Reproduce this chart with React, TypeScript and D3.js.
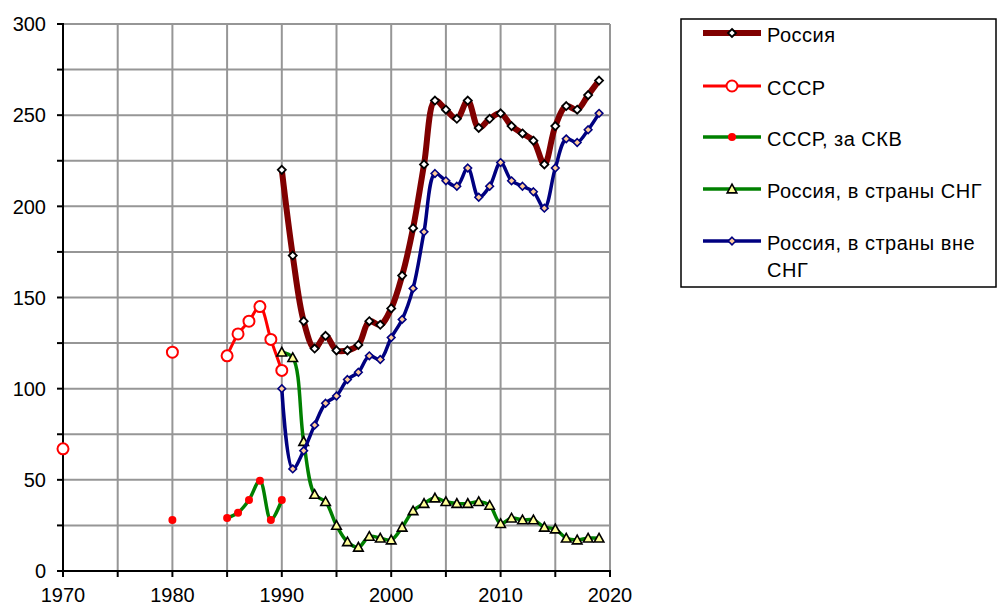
import React from "react";
import * as d3 from "d3";

// ---- data ----
const russiaYears = [1990,1991,1992,1993,1994,1995,1996,1997,1998,1999,2000,2001,2002,2003,2004,2005,2006,2007,2008,2009,2010,2011,2012,2013,2014,2015,2016,2017,2018,2019];
const russiaTotal = [220,173,137,122,129,121,121,124,137,135,144,162,188,223,258,253,248,258,243,248,251,244,240,236,223,244,255,253,261,269];
const russiaCis = [120,117,71,42,38,25,16,13,19,18,17,24,33,37,40,38,37,37,38,36,26,29,28,28,24,23,18,17,18,18];
const russiaNonCis = [100,56,66,80,92,96,105,109,118,116,128,138,155,186,218,214,211,221,205,211,224,214,211,208,199,221,237,235,242,251];
const ussrYears = [1970,1980,1985,1986,1987,1988,1989,1990];
const ussrTotal = [67,120,118,130,137,145,127,110];
const ussrHardYears = [1980,1985,1986,1987,1988,1989,1990];
const ussrHard = [28,29,32,39,49.5,28,39];

const yTicks = [0,50,100,150,200,250,300];
const yMinor = [0,25,50,75,100,125,150,175,200,225,250,275,300];
const xTicks = [1970,1980,1990,2000,2010,2020];
const xMinor = [1970,1975,1980,1985,1990,1995,2000,2005,2010,2015,2020];

const legendLabels = ["Россия","СССР","СССР, за СКВ","Россия, в страны СНГ","Россия, в страны вне","СНГ"];

const FONT = "Arial, 'Liberation Sans', sans-serif";

type Pt = { x: number; v: number };

function toPts(xs: number[], vs: number[]): Pt[] {
  return xs.map((x, i) => ({ x, v: vs[i] }));
}

// split into runs of consecutive years
function runs(pts: Pt[]): Pt[][] {
  const out: Pt[][] = [];
  let cur: Pt[] = [];
  pts.forEach((p, i) => {
    if (i > 0 && p.x - pts[i - 1].x !== 1) {
      out.push(cur);
      cur = [];
    }
    cur.push(p);
  });
  if (cur.length) out.push(cur);
  return out;
}

const diamond = (s: number) => `M0,${-s}L${s},0L0,${s}L${-s},0Z`;
const triangle = (s: number) => `M0,${-s}L${s},${s * 0.8}L${-s},${s * 0.8}Z`;

export default function App() {
  const x = d3.scaleLinear().domain([1970, 2020]).range([63, 610]);
  const y = d3.scaleLinear().domain([0, 300]).range([571, 24]);
  const line = d3
    .line<Pt>()
    .x((d) => x(d.x))
    .y((d) => y(d.v))
    .curve(d3.curveCatmullRom.alpha(0.5));

  const series = [
    {
      pts: toPts(russiaYears, russiaTotal),
      color: "#800000",
      width: 6,
      marker: (k: string | number) => (
        <path key={k} d={diamond(4)} fill="#fff" stroke="#000" strokeWidth={1.8} />
      ),
    },
    {
      pts: toPts(ussrYears, ussrTotal),
      color: "#ff0000",
      width: 3,
      marker: (k: string | number) => (
        <circle key={k} r={5.5} fill="#fff" stroke="#ff0000" strokeWidth={2} />
      ),
    },
    {
      pts: toPts(ussrHardYears, ussrHard),
      color: "#008000",
      width: 3.5,
      marker: (k: string | number) => <circle key={k} r={4} fill="#ff0000" />,
    },
    {
      pts: toPts(russiaYears, russiaCis),
      color: "#008000",
      width: 3.5,
      marker: (k: string | number) => (
        <path key={k} d={triangle(4.8)} fill="#ffff99" stroke="#000" strokeWidth={1.6} />
      ),
    },
    {
      pts: toPts(russiaYears, russiaNonCis),
      color: "#000080",
      width: 3.5,
      marker: (k: string | number) => (
        <path key={k} d={diamond(3.8)} fill="#ffcc99" stroke="#000080" strokeWidth={1.6} />
      ),
    },
  ];

  const legendY = [33, 86, 137, 189, 241];

  return (
    <svg
      width={998}
      height={605}
      style={{ position: "absolute", left: 0, top: 0, background: "#fff" }}
      fontFamily={FONT}
    >
      <rect x={0} y={0} width={998} height={605} fill="#fff" />
      {/* grid */}
      {yMinor.filter((v) => v > 0).map((v) => (
        <line key={"gy" + v} x1={x(1970)} x2={x(2020)} y1={y(v)} y2={y(v)} stroke="#969696" strokeWidth={2} />
      ))}
      {xMinor.filter((v) => v > 1970).map((v) => (
        <line key={"gx" + v} x1={x(v)} x2={x(v)} y1={y(0)} y2={y(300)} stroke="#969696" strokeWidth={2} />
      ))}
      {/* axes */}
      <line x1={x(1970)} x2={x(1970)} y1={y(0) + 1} y2={y(300) - 1} stroke="#000" strokeWidth={2} />
      <line x1={x(1970) - 1} x2={x(2020) + 1} y1={y(0)} y2={y(0)} stroke="#000" strokeWidth={2} />
      {yMinor.map((v) => (
        <line key={"ty" + v} x1={x(1970) - 6} x2={x(1970)} y1={y(v)} y2={y(v)} stroke="#000" strokeWidth={2} />
      ))}
      {xMinor.map((v) => (
        <line key={"tx" + v} x1={x(v)} x2={x(v)} y1={y(0)} y2={y(0) + 6} stroke="#000" strokeWidth={2} />
      ))}
      {yTicks.map((v) => (
        <text key={"ly" + v} x={46} y={y(v)} dy="0.36em" textAnchor="end" fontSize={20} fill="#000">
          {v}
        </text>
      ))}
      {xTicks.map((v) => (
        <text key={"lx" + v} x={x(v)} y={602} textAnchor="middle" fontSize={20} fill="#000">
          {v}
        </text>
      ))}
      {/* series */}
      {series.map((s, si) => (
        <g key={"s" + si}>
          {runs(s.pts)
            .filter((r) => r.length > 1)
            .map((r, ri) => (
              <path key={ri} d={line(r) || ""} fill="none" stroke={s.color} strokeWidth={s.width} strokeLinejoin="round" />
            ))}
          {s.pts.map((p, pi) => (
            <g key={pi} transform={`translate(${x(p.x)},${y(p.v)})`}>
              {s.marker(pi)}
            </g>
          ))}
        </g>
      ))}
      {/* legend */}
      <rect x={681} y={19} width={315} height={268} fill="#fff" stroke="#000" strokeWidth={1.5} />
      {series.map((s, i) => (
        <g key={"lg" + i}>
          <line x1={703} x2={761} y1={legendY[i]} y2={legendY[i]} stroke={s.color} strokeWidth={s.width} />
          <g transform={`translate(732,${legendY[i]})`}>{s.marker("m")}</g>
          <text x={767} y={legendY[i] + 9} fontSize={20} letterSpacing={0.5} fill="#000">
            {legendLabels[i]}
          </text>
        </g>
      ))}
      <text x={767} y={277} fontSize={20} letterSpacing={0.5} fill="#000">
        {legendLabels[5]}
      </text>
    </svg>
  );
}
